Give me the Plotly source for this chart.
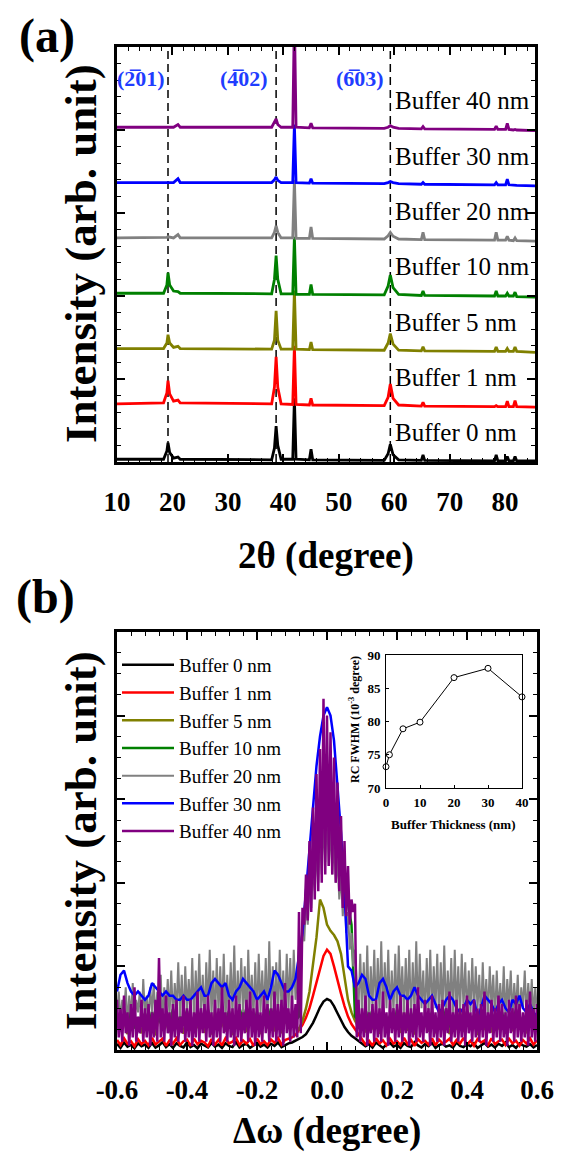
import plotly.graph_objects as go

W, H = 566, 1156
FONT = "Liberation Serif"

# ---------------- data: panel (a) XRD 2theta scans ----------------
series_labels = ["Buffer 0 nm", "Buffer 1 nm", "Buffer 5 nm", "Buffer 10 nm",
                 "Buffer 20 nm", "Buffer 30 nm", "Buffer 40 nm"]
series_colors = ["#000000", "#ff0000", "#808000", "#008000", "#808080", "#0000ff", "#800080"]

two_theta = [10.0, 18.4, 19.0, 19.2, 19.5, 20.2, 21.0, 21.4, 37.9, 38.4, 38.7, 39.0, 39.6,
             41.7, 42.0, 42.3, 44.7, 45.0, 45.3, 58.2, 58.9, 59.3, 59.8, 60.8, 64.9, 65.2,
             65.5, 78.1, 78.4, 78.7, 80.1, 80.4, 80.7, 81.5, 81.8, 82.1, 85.4]

xrd_0nm = [0.0, 0.0, 0.15, 0.30, 0.12, 0.02, 0.04, 0.0, -0.01, 0.2, 0.6, 0.25, 0.0, 0.0, 1.1, 0.0,
           -0.01, 0.18, -0.01, -0.02, 0.1, 0.27, 0.08, -0.01, -0.02, 0.08, -0.02, -0.03, 0.08,
           -0.03, -0.03, 0.05, -0.03, -0.03, 0.05, -0.03, -0.03]
xrd_1nm = [0.0, 0.02, 0.2, 0.42, 0.18, 0.05, 0.07, 0.02, 0.0, 0.3, 0.85, 0.3, 0.0, -0.01, 1.05,
           -0.01, -0.02, 0.1, -0.02, -0.03, 0.12, 0.36, 0.1, -0.02, -0.04, 0.03, -0.04, -0.05,
           -0.03, -0.05, -0.05, 0.05, -0.05, -0.05, 0.06, -0.05, -0.06]
xrd_5nm = [0.0, 0.0, 0.1, 0.25, 0.1, 0.02, 0.04, 0.0, -0.01, 0.15, 0.68, 0.15, -0.01, -0.01, 1.05,
           -0.01, -0.02, 0.12, -0.02, -0.03, 0.1, 0.27, 0.08, -0.03, -0.04, 0.03, -0.04, -0.05,
           0.03, -0.05, -0.05, 0.0, -0.05, -0.05, 0.03, -0.05, -0.07]
xrd_10nm = [0.0, 0.0, 0.15, 0.37, 0.15, 0.04, 0.03, 0.0, -0.01, 0.25, 0.68, 0.25, -0.01, -0.01,
            1.02, -0.02, -0.02, 0.16, -0.02, -0.03, 0.13, 0.33, 0.1, -0.02, -0.04, 0.04, -0.04,
            -0.05, 0.04, -0.05, -0.05, 0.0, -0.05, -0.05, 0.02, -0.06, -0.07]
xrd_20nm = [0.0, 0.0, 0.01, 0.02, 0.01, 0.0, 0.06, 0.0, 0.0, 0.1, 0.22, 0.1, 0.0, 0.0, 1.05, -0.01,
            -0.01, 0.2, -0.01, -0.02, 0.04, 0.1, 0.03, -0.02, -0.03, 0.1, -0.03, -0.04, 0.1,
            -0.04, -0.04, 0.03, -0.04, -0.05, 0.0, -0.05, -0.06]
xrd_30nm = [0.0, 0.0, 0.0, 0.01, 0.0, 0.0, 0.07, 0.0, 0.0, 0.05, 0.1, 0.04, 0.0, 0.0, 1.05, 0.0,
            -0.01, 0.07, -0.01, -0.02, 0.0, 0.02, 0.0, -0.02, -0.03, 0.0, -0.03, -0.04, 0.0,
            -0.04, -0.04, 0.06, -0.04, -0.05, -0.04, -0.05, -0.06]
xrd_40nm = [0.0, 0.0, 0.0, 0.01, 0.0, 0.0, 0.05, 0.0, 0.0, 0.1, 0.15, 0.05, 0.0, 0.0, 2.0, 0.0,
            -0.01, 0.07, -0.01, -0.02, 0.0, 0.03, 0.0, -0.02, -0.03, 0.01, -0.03, -0.04, 0.02,
            -0.04, -0.04, 0.07, -0.04, -0.05, -0.04, -0.05, -0.06]
xrd_offsets = [0.05, 1.05, 2.05, 3.05, 4.05, 5.05, 6.05]

hkl_positions = [19.2, 38.7, 59.3]
hkl_labels = ["(2\u030501)", "(4\u030502)", "(6\u030503)"]
hkl_label_x = [19.0, 37.6, 58.6]

x_ticks_a = [10, 20, 30, 40, 50, 60, 70, 80]

# ---------------- data: panel (b) rocking curves ----------------
omega_coarse = [round(-0.6 + 0.01 * i, 3) for i in range(121)]
omega_fine = [round(-0.6 + 0.005 * i, 3) for i in range(241)]

rc_0nm = [1.5, 0.5, 1.8, 0.8, 1.2, 0.4, 1.6, 0.9, 1.3, 0.5,
          1.7, 0.6, 1.1, 1.9, 0.7, 1.4, 0.5, 1.6, 1.0, 0.6,
          1.8, 0.7, 1.2, 0.4, 1.5, 1.1, 0.6, 1.7, 0.8, 1.3,
          0.5, 1.6, 1.0, 0.7, 1.9, 0.6, 1.2, 1.5, 0.5, 1.1,
          1.7, 0.8, 1.3, 0.6, 1.5, 1.0, 1.8, 0.7, 1.2, 1.6,
          1.8, 2.2, 2.6, 3.1, 3.8, 5.0, 6.5, 8.3, 10.2, 11.6,
          12.2, 11.8, 10.5, 8.8, 7.0, 5.5, 4.3, 3.4, 2.8, 2.2,
          1.6, 0.9, 1.4, 0.6, 1.8, 1.1, 0.5, 1.3, 1.7, 0.8,
          1.2, 0.5, 1.6, 1.0, 0.7, 1.9, 1.1, 0.6, 1.4, 0.9,
          1.7, 0.5, 1.2, 1.5, 0.8, 1.1, 0.6, 1.8, 1.0, 0.7,
          1.4, 0.9, 1.6, 0.5, 1.2, 1.7, 0.8, 1.3, 0.6, 1.5,
          1.0, 1.8, 0.7, 1.2, 0.5, 1.6, 1.1, 0.8, 1.4, 0.6,
          1.2]
rc_1nm = [2.4, 1.2, 2.8, 1.5, 2.1, 0.9, 2.6, 1.4, 2.2, 1.1,
          2.9, 1.3, 2.0, 2.7, 1.0, 2.3, 1.5, 2.8, 1.2, 2.1,
          2.5, 1.0, 2.7, 1.4, 2.2, 1.8, 0.9, 2.6, 1.3, 2.4,
          1.1, 2.8, 1.6, 2.0, 2.9, 1.2, 2.3, 1.5, 2.6, 1.0,
          2.7, 1.4, 2.1, 1.2, 2.5, 1.7, 2.9, 1.3, 2.4, 2.8,
          3.0, 3.6, 4.8, 6.0, 7.8, 10.0, 13.0, 16.0, 19.5, 22.5,
          24.0, 23.0, 20.0, 16.5, 13.5, 10.5, 8.0, 6.2, 5.0, 3.8,
          2.6, 1.3, 2.2, 1.0, 2.8, 1.6, 2.3, 1.1, 2.7, 1.5,
          2.1, 1.2, 2.9, 1.4, 2.4, 1.0, 2.6, 1.7, 2.2, 1.3,
          2.8, 1.1, 2.5, 1.6, 2.0, 2.7, 1.2, 2.4, 1.5, 2.9,
          1.3, 2.2, 1.0, 2.6, 1.8, 2.3, 1.1, 2.8, 1.4, 2.1,
          2.5, 1.2, 2.7, 1.6, 2.2, 1.0, 2.4, 1.5, 2.8, 1.3,
          2.3]
rc_5nm = [8.0, 4.5, 7.2, 3.8, 9.0, 5.2, 6.8, 4.0, 8.5, 5.5,
          7.5, 3.5, 8.8, 4.8, 6.5, 4.2, 9.2, 5.0, 7.0, 3.9,
          8.2, 4.6, 6.9, 5.3, 8.7, 4.1, 7.4, 3.7, 9.1, 5.1,
          6.6, 4.4, 8.4, 3.6, 7.8, 5.4, 6.2, 4.3, 8.9, 4.9,
          7.1, 3.8, 8.6, 5.2, 6.7, 4.5, 9.0, 4.0, 7.3, 5.6,
          6.0, 5.5, 5.0, 7.0, 10.0, 14.0, 20.0, 27.0, 36.0, 34.0,
          30.0, 28.5, 27.5, 26.0, 23.0, 17.0, 12.0, 9.0, 7.0, 5.5,
          7.8, 4.2, 8.5, 5.0, 6.4, 3.9, 8.9, 4.7, 7.2, 5.3,
          6.8, 4.1, 9.0, 4.6, 7.5, 3.7, 8.3, 5.4, 6.6, 4.4,
          8.7, 4.0, 7.0, 5.5, 8.1, 3.8, 6.9, 4.9, 9.2, 4.3,
          7.4, 5.1, 6.3, 3.6, 8.6, 4.8, 7.7, 4.2, 6.8, 5.0,
          8.4, 3.9, 7.1, 4.5, 9.0, 5.2, 6.5, 4.0, 7.9, 4.6,
          7.0]
rc_10nm = [9.0, 5.5, 8.2, 6.0, 9.5, 5.2, 7.8, 6.4, 8.8, 5.0,
           9.2, 6.1, 7.5, 5.4, 8.6, 6.3, 9.8, 5.7, 8.0, 6.6,
           9.4, 5.3, 7.9, 6.2, 8.9, 5.8, 9.6, 6.0, 7.6, 5.5,
           8.7, 6.4, 9.3, 5.1, 8.1, 6.5, 9.7, 5.6, 7.7, 6.1,
           9.1, 5.4, 8.4, 6.3, 9.9, 5.9, 7.4, 6.2, 8.8, 5.7,
           8.0, 7.0, 8.0, 30.0, 36.0, 42.0, 48.0, 54.0, 58.0, 62.0,
           62.0, 60.0, 56.0, 50.0, 46.0, 40.0, 35.0, 30.0, 8.0, 7.0,
           8.5, 5.6, 9.3, 6.0, 7.9, 5.3, 9.0, 6.4, 8.2, 5.8,
           9.6, 6.1, 7.7, 5.5, 8.9, 6.3, 9.4, 5.2, 8.0, 6.5,
           9.1, 5.7, 7.6, 6.2, 9.8, 5.4, 8.5, 6.0, 7.8, 5.9,
           9.2, 6.4, 8.3, 5.1, 9.5, 6.1, 7.5, 5.6, 8.7, 6.2,
           9.0, 5.5, 8.1, 6.3, 9.7, 5.8, 7.9, 6.0, 8.6, 5.4,
           8.4]
rc_20nm = [8, 14, 7, 12, 9, 15, 6, 13, 8, 16,
           7, 12, 9, 14, 6, 17, 8, 13, 7, 15,
           9, 16, 7, 14, 8, 18, 6, 15, 9, 17,
           8, 19, 7, 16, 9, 21, 8, 18, 6, 20,
           9, 17, 8, 22, 7, 19, 9, 23, 8, 18,
           7, 21, 9, 24, 8, 19, 6, 22, 9, 20,
           8, 23, 7, 18, 9, 21, 8, 25, 7, 19,
           9, 22, 8, 20, 6, 24, 9, 18, 8, 21,
           7, 23, 9, 19, 8, 22, 7, 26, 9, 20,
           8, 21, 7, 24, 9, 19, 8, 23, 10, 22,
           9, 24, 12,
           18, 25, 20, 30, 26, 36, 30, 40, 34, 44, 38, 48, 40, 52, 42, 55, 45, 57,
           44, 54, 42, 50, 40, 46, 36, 42, 32, 38, 28, 33, 24, 28, 20, 24, 16,
           10, 23, 8, 21, 9, 25, 7, 20, 10, 24,
           8, 22, 9, 26, 7, 21, 10, 24, 8, 19,
           9, 23, 7, 25, 10, 20, 8, 22, 9, 24,
           7, 21, 9, 26, 8, 23, 10, 19, 7, 22,
           9, 24, 8, 20, 10, 23, 7, 21, 9, 25,
           8, 19, 10, 22, 7, 24, 9, 20, 8, 23,
           10, 21, 7, 19, 9, 22, 8, 20, 10, 18,
           7, 21, 9, 17, 8, 20, 10, 18, 7, 19,
           9, 16, 8, 20, 7, 17, 10, 19, 8, 16,
           9, 18, 7, 15, 10, 19, 8, 16, 9, 17,
           8, 15, 9]
rc_30nm = [14, 18, 19, 16, 14, 13, 14, 13, 12, 13,
           16, 15, 14, 13, 14, 13, 13, 12, 12, 13,
           12, 12, 13, 14, 15, 13, 13, 16, 17, 16,
           15, 16, 13, 12, 14, 15, 17, 16, 15, 14,
           12, 13, 14, 12, 15, 19, 18, 16, 14, 14,
           15, 17, 22, 28, 38, 48, 60, 68, 75, 80,
           82, 80, 74, 64, 52, 38, 20, 19, 15, 16,
           18, 17, 13, 12, 12, 16, 17, 15, 12, 14,
           15, 13, 13, 12, 13, 15, 13, 12, 11, 12,
           13, 11, 9, 10, 12, 13, 12, 10, 9, 10,
           12, 11, 12, 8, 10, 13, 12, 11, 9, 11,
           12, 10, 9, 12, 11, 13, 10, 9, 11, 9,
           8]
rc_40nm = [12, 3, 10, 2, 13, 4, 9, 1, 11, 3,
           15, 2, 8, 4, 12, 2, 10, 3, 11, 1,
           9, 3, 12, 2, 22, 3, 10, 2, 13, 4,
           9, 1, 11, 3, 12, 2, 8, 4, 13, 2,
           10, 3, 12, 1, 9, 3, 14, 2, 10, 4,
           11, 2, 13, 3, 9, 1, 12, 3, 10, 2,
           15, 4, 9, 2, 12, 3, 10, 1, 13, 3,
           11, 2, 9, 4, 12, 2, 14, 3, 10, 1,
           12, 3, 9, 2, 13, 4, 11, 2, 10, 3,
           14, 2, 11, 3, 12, 1, 16, 4, 10, 2,
           13, 3, 11,
           3, 33, 4, 34, 30, 42, 31, 50, 33, 58, 36, 66, 38, 72, 40, 84, 42, 80,
           44, 76, 42, 70, 40, 64, 38, 56, 34, 50, 32, 44, 30, 36, 33, 35, 3,
           12, 2, 10, 3, 13, 1, 9, 4, 11, 2,
           12, 3, 10, 2, 14, 3, 9, 1, 12, 4,
           10, 2, 11, 3, 13, 2, 9, 4, 12, 1,
           10, 3, 11, 2, 15, 3, 9, 2, 12, 4,
           10, 1, 13, 3, 9, 2, 11, 3, 12, 1,
           10, 4, 14, 2, 9, 3, 12, 2, 10, 3,
           11, 1, 13, 4, 9, 2, 12, 3, 10, 2,
           11, 3, 14, 1, 9, 4, 12, 2, 10, 3,
           13, 2, 11, 3, 9, 1, 12, 4, 10, 2,
           13, 3, 11, 2, 9, 3, 12, 1, 14, 3,
           10, 2, 11]

x_ticks_b = [-0.6, -0.4, -0.2, 0.0, 0.2, 0.4, 0.6]
x_ticktext_b = ["-0.6", "-0.4", "-0.2", "0.0", "0.2", "0.4", "0.6"]

# inset: rocking-curve FWHM vs buffer thickness
inset_thickness = [0, 1, 5, 10, 20, 30, 40]
inset_fwhm = [73.2, 75.0, 78.9, 79.9, 86.6, 88.0, 83.7]

xrd_series = [xrd_0nm, xrd_1nm, xrd_5nm, xrd_10nm, xrd_20nm, xrd_30nm, xrd_40nm]
rc_series = [(omega_coarse, rc_0nm), (omega_coarse, rc_1nm), (omega_coarse, rc_5nm),
             (omega_coarse, rc_10nm), (omega_fine, rc_20nm), (omega_coarse, rc_30nm),
             (omega_fine, rc_40nm)]
for s in xrd_series:
    assert len(s) == len(two_theta)
for xs, ys in rc_series:
    assert len(xs) == len(ys), (len(xs), len(ys))

# ---------------- figure ----------------
fig = go.Figure()

for vals, off, col in zip(xrd_series, xrd_offsets, series_colors):
    fig.add_trace(go.Scatter(x=two_theta, y=[v + off for v in vals], mode="lines",
                             line=dict(color=col, width=2.8), showlegend=False,
                             xaxis="x", yaxis="y", hoverinfo="skip"))

rc_widths = [2.5, 2.5, 2.5, 2.5, 2.0, 2.5, 2.5]
for (xs, ys), name, col, lw in zip(rc_series, series_labels, series_colors, rc_widths):
    fig.add_trace(go.Scatter(x=xs, y=ys, mode="lines", name=name,
                             line=dict(color=col, width=lw), xaxis="x2", yaxis="y2",
                             hoverinfo="skip"))

fig.add_trace(go.Scatter(x=inset_thickness, y=inset_fwhm, mode="lines+markers",
                         line=dict(color="black", width=1),
                         marker=dict(symbol="circle", size=6, color="white",
                                     line=dict(color="black", width=1)),
                         showlegend=False, cliponaxis=False, xaxis="x3", yaxis="y3",
                         hoverinfo="skip"))

minor_style = dict(ticks="inside", ticklen=4, tickwidth=1, tickcolor="black", showgrid=False)
frame = dict(showline=True, linewidth=3, linecolor="black", mirror="ticks", showgrid=False,
             zeroline=False, ticks="inside", tickcolor="black", tickwidth=1.5, ticklen=8)
tick_font = dict(family=FONT, size=27, color="black", weight="bold")

fig.update_layout(
    width=W, height=H, autosize=False,
    margin=dict(l=0, r=0, t=0, b=0, pad=0, autoexpand=False),
    paper_bgcolor="white", plot_bgcolor="white",
    font=dict(family=FONT, color="black"),
    xaxis=dict(domain=[117 / W, 535 / W], range=[10, 85.4], anchor="y",
               tickmode="array", tickvals=x_ticks_a, tickfont=tick_font,
               ticklabelstandoff=14,
               minor=dict(tickmode="linear", tick0=10, dtick=2, **minor_style), **frame),
    yaxis=dict(domain=[1 - 462 / H, 1 - 47 / H], range=[0, 7.5], anchor="x",
               tickmode="linear", tick0=0, dtick=1.5, showticklabels=False,
               minor=dict(tickmode="linear", tick0=0, dtick=0.3, **minor_style), **frame),
    xaxis2=dict(domain=[117 / W, 537 / W], range=[-0.6, 0.6], anchor="y2",
                tickmode="array", tickvals=x_ticks_b, ticktext=x_ticktext_b,
                tickfont=tick_font, ticklabelstandoff=14,
                minor=dict(tickmode="linear", tick0=-0.6, dtick=0.04, **minor_style), **frame),
    yaxis2=dict(domain=[1 - 1050 / H, 1 - 632 / H], range=[0, 100], anchor="x2",
                tickmode="linear", tick0=0, dtick=20, showticklabels=False,
                minor=dict(tickmode="linear", tick0=0, dtick=5, **minor_style), **frame),
    xaxis3=dict(domain=[386 / W, 522 / W], range=[0, 40], anchor="y3",
                tickmode="linear", tick0=0, dtick=10, showline=True, linewidth=1,
                linecolor="black", mirror=True, ticks="inside", ticklen=3, tickwidth=1,
                tickcolor="black", showgrid=False, zeroline=False,
                tickfont=dict(family=FONT, size=13, color="black", weight="bold"),
                ticklabelstandoff=2),
    yaxis3=dict(domain=[1 - 788 / H, 1 - 655 / H], range=[70, 90], anchor="x3",
                tickmode="linear", tick0=70, dtick=5, showline=True, linewidth=1,
                linecolor="black", mirror=True, ticks="inside", ticklen=3, tickwidth=1,
                tickcolor="black", showgrid=False, zeroline=False,
                tickfont=dict(family=FONT, size=13, color="black", weight="bold"),
                ticklabelstandoff=2),
    legend=dict(x=117 / W, y=1 - 646 / H, xanchor="left", yanchor="top",
                font=dict(family=FONT, size=19, color="black"), itemwidth=52,
                bgcolor="rgba(0,0,0,0)", borderwidth=0, tracegroupgap=0,
                traceorder="normal"),
)

# dashed reflection markers
for p in hkl_positions:
    fig.add_shape(type="line", xref="x", yref="y domain", x0=p, x1=p, y0=0, y1=1,
                  line=dict(color="black", width=1.5, dash="8px,5px"), layer="below")

ann = []
for lx, lab in zip(hkl_label_x, hkl_labels):
    ann.append(dict(x=lx, y=6.93, xref="x", yref="y", text=lab, showarrow=False,
                    xanchor="right", yanchor="middle",
                    font=dict(family=FONT, size=22, color="#1f3dff", weight="bold")))
for off, lab in zip(xrd_offsets, series_labels):
    ann.append(dict(x=59.7, y=off + 0.48, xref="x", yref="y", text=lab, showarrow=False,
                    xanchor="left", yanchor="middle",
                    font=dict(family=FONT, size=25, color="black")))

big = dict(family=FONT, color="black", weight="bold")
ann += [
    dict(x=47 / W, y=1 - 36 / H, xref="paper", yref="paper", text="(a)", showarrow=False,
         xanchor="center", yanchor="middle", font=dict(size=48, **big)),
    dict(x=45 / W, y=1 - 597 / H, xref="paper", yref="paper", text="(b)", showarrow=False,
         xanchor="center", yanchor="middle", font=dict(size=48, **big)),
    dict(x=81 / W, y=1 - 254 / H, xref="paper", yref="paper", text="Intensity (arb. unit)",
         showarrow=False, textangle=-90, xanchor="center", yanchor="middle",
         font=dict(size=45, **big)),
    dict(x=81 / W, y=1 - 841 / H, xref="paper", yref="paper", text="Intensity (arb. unit)",
         showarrow=False, textangle=-90, xanchor="center", yanchor="middle",
         font=dict(size=45, **big)),
    dict(x=326 / W, y=1 - 556 / H, xref="paper", yref="paper", text="2θ (degree)",
         showarrow=False, xanchor="center", yanchor="middle", font=dict(size=37, **big)),
    dict(x=327 / W, y=1 - 1131 / H, xref="paper", yref="paper", text="Δω (degree)",
         showarrow=False, xanchor="center", yanchor="middle", font=dict(size=37, **big)),
    dict(x=453 / W, y=1 - 824 / H, xref="paper", yref="paper", text="Buffer Thickness (nm)",
         showarrow=False, xanchor="center", yanchor="middle", font=dict(size=13, **big)),
    dict(x=354 / W, y=1 - 720 / H, xref="paper", yref="paper",
         text="RC FWHM (10<sup>-3</sup> degree)", showarrow=False, textangle=-90,
         xanchor="center", yanchor="middle", font=dict(size=12, **big)),
]
fig.update_layout(annotations=ann)

fig.write_html("out.html", config={"displayModeBar": False},
               post_script="document.body.style.margin='0';"
                           "document.body.style.overflow='hidden';")
